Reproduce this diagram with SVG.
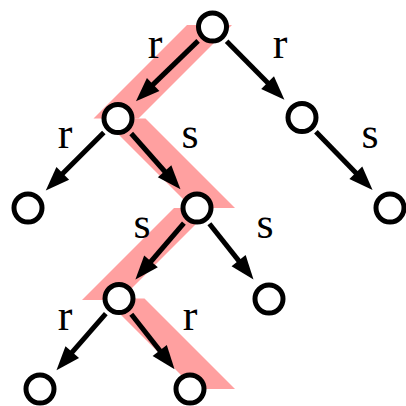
<svg xmlns="http://www.w3.org/2000/svg" width="406" height="406" viewBox="0 0 406 406">
<style>
.node{fill:#fff;stroke:#000;stroke-width:5}
.edge{stroke:#000;stroke-width:5;fill:none;marker-end:url(#ah)}
.lbl{font-family:"Liberation Serif","Times New Roman",serif;font-size:44px;fill:#000;text-anchor:middle}
.hl{fill:#ffa0a0}
</style>
<defs>
<marker id="ah" markerUnits="userSpaceOnUse" markerWidth="28" markerHeight="20" viewBox="-26 -10 28 20" refX="-14" refY="0" orient="auto">
<path d="M0,0 L-24,-9 L-24,9 Z" fill="#000"/>
</marker>
</defs>
<rect width="406" height="406" fill="#fff"/>
<g id="highlight">
<polygon class="hl" points="187,25 232,25 138.5,118.5 93.5,118.5"/>
<polygon class="hl" points="102.5,118.5 145.5,118.5 235,208 192,208"/>
<polygon class="hl" points="174,208 212,208 120,300 82,300"/>
<polygon class="hl" points="104.5,298.5 144.5,298.5 235,389 195,389"/>
</g>
<g id="connectors">
<line class="edge" x1="198.1" y1="40.9" x2="146" y2="91.4"/>
<line class="edge" x1="226.6" y1="41.2" x2="274.6" y2="89.8"/>
<line class="edge" x1="103.8" y1="132.6" x2="55.7" y2="180.5"/>
<line class="edge" x1="131.2" y1="133.5" x2="171.2" y2="178.75"/>
<line class="edge" x1="315.9" y1="131.8" x2="362.8" y2="180"/>
<line class="edge" x1="183.9" y1="223.1" x2="144.5" y2="269"/>
<line class="edge" x1="209.4" y1="223.7" x2="244.8" y2="268.4"/>
<line class="edge" x1="105.8" y1="313.6" x2="65.7" y2="359.6"/>
<line class="edge" x1="131.3" y1="314.2" x2="165.9" y2="358.3"/>
<text class="lbl" x="155" y="58">r</text>
<text class="lbl" x="280" y="58">r</text>
<text class="lbl" x="65" y="148">r</text>
<text class="lbl" x="190" y="148">s</text>
<text class="lbl" x="370" y="148">s</text>
<text class="lbl" x="142" y="238">s</text>
<text class="lbl" x="265" y="238">s</text>
<text class="lbl" x="65" y="330">r</text>
<text class="lbl" x="190" y="330">r</text>
</g>
<g id="n0"><circle class="node" cx="212.5" cy="27" r="14"/></g>
<g id="n1"><circle class="node" cx="118" cy="118.5" r="14"/></g>
<g id="n2"><circle class="node" cx="302" cy="117.5" r="14"/></g>
<g id="n3"><circle class="node" cx="28" cy="208" r="14"/></g>
<g id="n4"><circle class="node" cx="197" cy="208" r="14"/></g>
<g id="n5"><circle class="node" cx="390" cy="208" r="14"/></g>
<g id="n6"><circle class="node" cx="119" cy="298.5" r="14"/></g>
<g id="n7"><circle class="node" cx="269" cy="299" r="14"/></g>
<g id="n8"><circle class="node" cx="40" cy="389" r="14"/></g>
<g id="n9"><circle class="node" cx="190" cy="389" r="14"/></g>
</svg>
